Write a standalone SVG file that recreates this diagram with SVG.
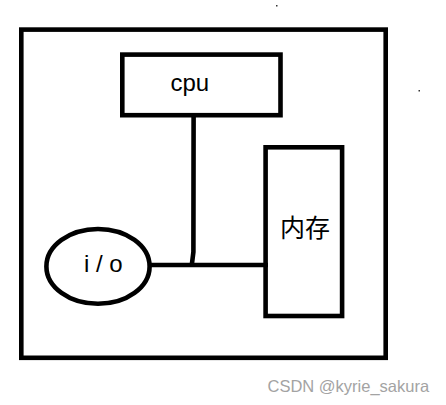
<svg xmlns="http://www.w3.org/2000/svg" width="446" height="405" viewBox="0 0 446 405">
<style>
.box{fill:none;stroke:#000;stroke-width:4.6}
.wire{fill:none;stroke:#000;stroke-width:4.6;stroke-linejoin:round}
.lbl{font-family:"Liberation Sans",Arial,sans-serif;font-size:24px;fill:#000}
.cjk{font-family:"Noto Sans CJK SC","Liberation Sans",sans-serif;font-size:25px;fill:#000}
.wm{font-family:"Liberation Sans",Arial,sans-serif;font-size:16.5px;fill:#a3a3a3}
</style>
<rect width="446" height="405" fill="#fff"/>
<rect x="276" y="5" width="1.5" height="1.5" fill="#333"/>
<rect x="418.5" y="90" width="1.5" height="1.5" fill="#333"/>
<g id="outer">
<rect class="box" x="21.3" y="29.6" width="364.4" height="328.2"/>
</g>
<g id="connectors">
<path class="wire" d="M193.6 117 L193.4 252 L191.8 265"/>
<path class="wire" d="M150 265 L268 265"/>
</g>
<g id="cpu">
<rect class="box" x="122.3" y="54.6" width="158.2" height="60.6"/>
<text class="lbl" x="170.5" y="91">cpu</text>
</g>
<g id="memory">
<rect class="box" x="265.6" y="147.3" width="76.5" height="168.7"/>
<text class="cjk" x="280" y="237">内存</text>
</g>
<g id="io">
<ellipse class="box" cx="98" cy="266.4" rx="51.6" ry="37.4"/>
<text class="lbl" x="84" y="272.3">i / o</text>
</g>
<text class="wm" x="267.5" y="391.7">CSDN @kyrie_sakura</text>
</svg>
